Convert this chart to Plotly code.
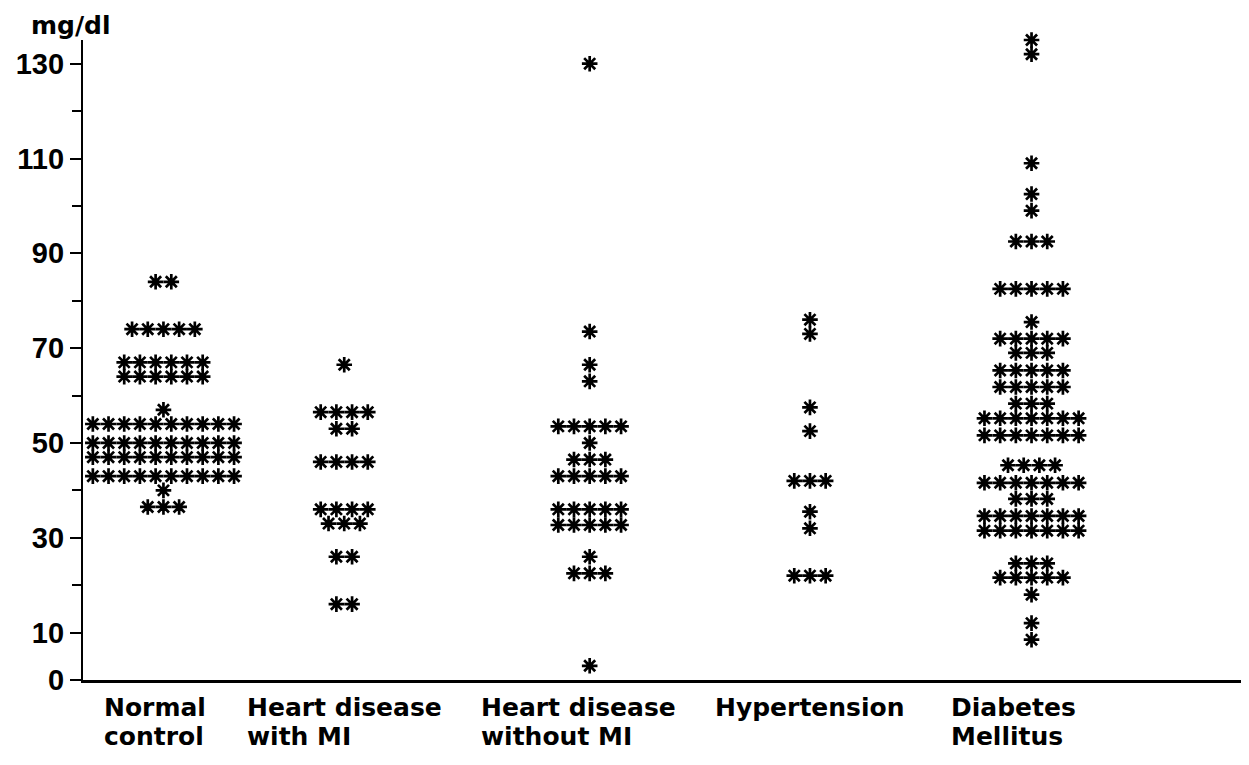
import plotly.graph_objects as go

# ---- data ----
categories = ["Normal control", "Heart disease with MI", "Heart disease without MI",
              "Hypertension", "Diabetes Mellitus"]
label_line1 = ["Normal", "Heart disease", "Heart disease", "Hypertension", "Diabetes"]
label_line2 = ["control", "with MI", "without MI", "", "Mellitus"]

normal_levels = [84, 74, 67, 64, 57, 54, 50, 47, 43, 40, 36.5]
normal_counts = [2, 5, 6, 6, 1, 10, 10, 10, 10, 1, 3]

mi_levels = [66.5, 56.5, 53, 46, 36, 33, 26, 16]
mi_counts = [1, 4, 2, 4, 4, 3, 2, 2]

nomi_levels = [130, 73.5, 66.5, 63, 53.5, 50, 46.5, 43, 36, 32.7, 26, 22.5, 3]
nomi_counts = [1, 1, 1, 1, 5, 1, 3, 5, 5, 5, 1, 3, 1]

hyp_levels = [76, 73, 57.5, 52.5, 42, 35.5, 32, 22]
hyp_counts = [1, 1, 1, 1, 3, 1, 1, 3]

dm_levels = [135, 132, 109, 102.5, 99, 92.5, 82.5, 75.5, 72, 69, 65.3, 61.8, 58.3,
             55.2, 51.6, 45.3, 41.6, 38.2, 34.6, 31.5, 24.6, 21.6, 18, 12, 8.5]
dm_counts = [1, 1, 1, 1, 1, 3, 5, 1, 5, 3, 5, 5, 3,
             7, 7, 4, 7, 3, 7, 7, 3, 5, 1, 1, 1]

groups = [(normal_levels, normal_counts), (mi_levels, mi_counts),
          (nomi_levels, nomi_counts), (hyp_levels, hyp_counts),
          (dm_levels, dm_counts)]

y_tickvals = [0, 10, 30, 50, 70, 90, 110, 130]
y_minorvals = [20, 40, 60, 80, 100, 120]

# ---- layout settings ----
group_centers = [0.0, 0.833, 1.964, 2.979, 4.0]
label_left = [-0.283, 0.377, 1.452, 2.530, 3.620]
star_step = 0.0723

xs, ys = [], []
for center, (levels, counts) in zip(group_centers, groups):
    for v, n in zip(levels, counts):
        for k in range(n):
            xs.append(center + (k - (n - 1) / 2) * star_step)
            ys.append(v)

fig = go.Figure()
fig.add_trace(go.Scatter(
    x=xs, y=ys, mode="markers", cliponaxis=False, showlegend=False,
    marker=dict(symbol="asterisk-open", size=13, color="black",
                line=dict(color="black", width=2.7)),
))

FONT = "Liberation Sans, Arial, sans-serif"
LABEL_FONT = "DejaVu Sans, Liberation Sans, sans-serif"

for xl, l1, l2 in zip(label_left, label_line1, label_line2):
    fig.add_annotation(x=xl, y=-0.0425, xref="x", yref="paper", text=l1,
                       xanchor="left", yanchor="middle", showarrow=False,
                       font=dict(family=LABEL_FONT, size=25, color="black", weight="bold"))
    if l2:
        fig.add_annotation(x=xl, y=-0.088, xref="x", yref="paper", text=l2,
                           xanchor="left", yanchor="middle", showarrow=False,
                           font=dict(family=LABEL_FONT, size=25, color="black", weight="bold"))

fig.add_annotation(x=-0.046, y=1.022, xref="paper", yref="paper", text="mg/dl",
                   xanchor="left", yanchor="middle", showarrow=False,
                   font=dict(family=LABEL_FONT, size=25, color="black", weight="bold"))

fig.update_layout(
    width=1249, height=765,
    margin=dict(l=67, r=8, t=32, b=93),
    paper_bgcolor="white", plot_bgcolor="white",
    xaxis=dict(range=[-0.3707, 5.002], showgrid=False, zeroline=False,
               showticklabels=False, ticks="", showline=True,
               linecolor="black", linewidth=3),
    yaxis=dict(range=[0, 135], showgrid=False, zeroline=False,
               showline=True, linecolor="black", linewidth=2.2,
               tickvals=y_tickvals, ticktext=[str(v) for v in y_tickvals],
               ticks="outside", ticklen=11, tickwidth=2, tickcolor="black",
               tickfont=dict(family=FONT, size=29, color="black", weight="bold"),
               minor=dict(tickvals=y_minorvals, ticks="outside", ticklen=9,
                          tickwidth=2, tickcolor="black")),
)

fig.write_html("out.html")
